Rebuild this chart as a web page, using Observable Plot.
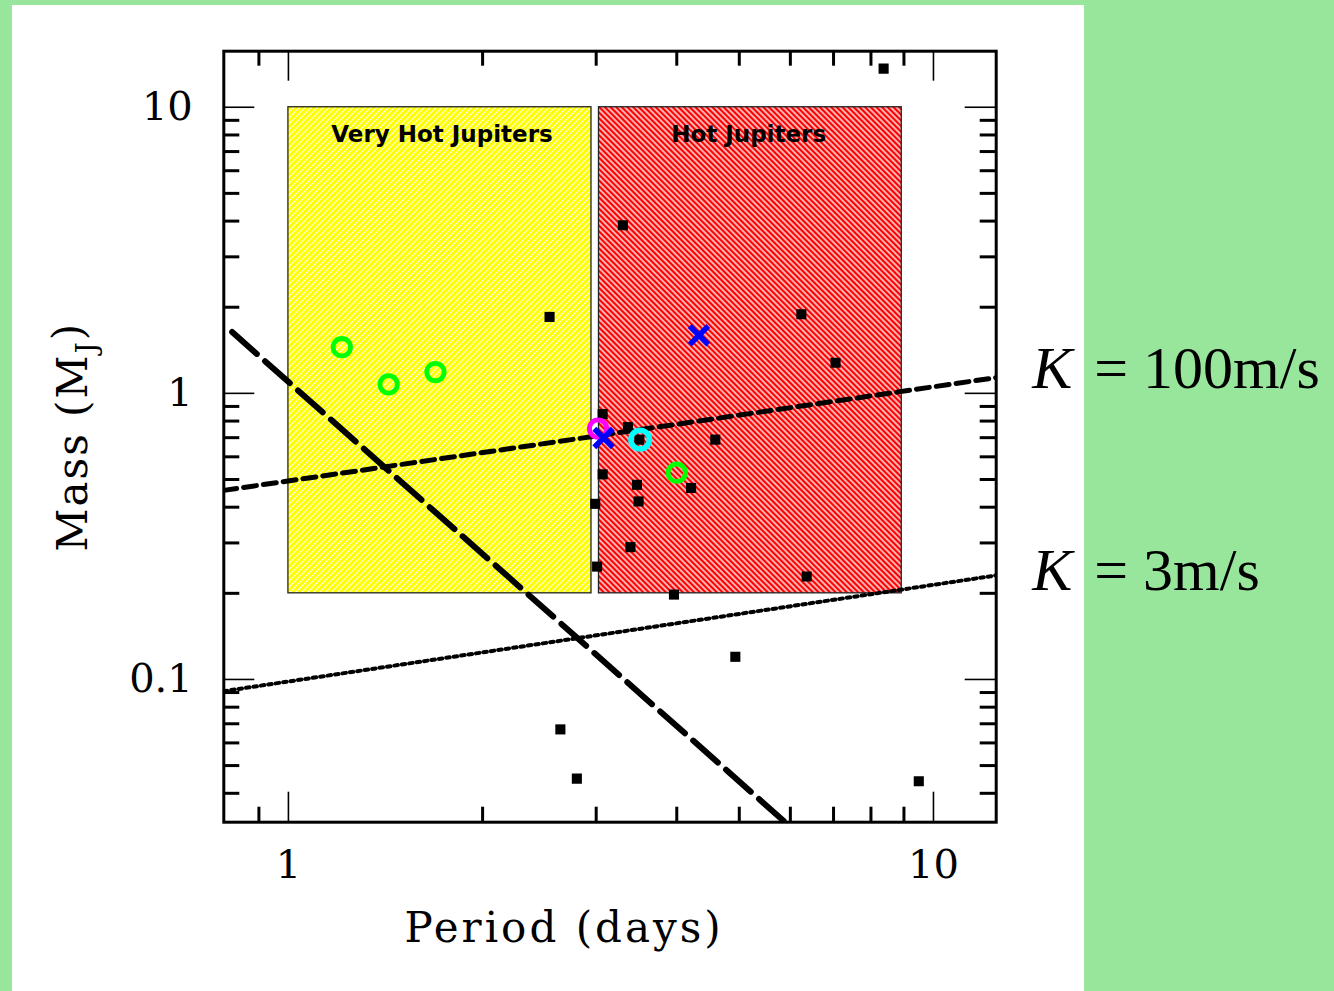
<!DOCTYPE html>
<html><head><meta charset="utf-8">
<script src="https://cdn.jsdelivr.net/npm/d3@7"></script>
<script src="https://cdn.jsdelivr.net/npm/@observablehq/plot@0.6"></script>
<style>
html,body{margin:0;padding:0;background:#98e69c;}
#wrap{position:relative;width:1334px;height:991px;overflow:hidden;}
#panel{position:absolute;left:12px;top:5px;width:1072px;height:986px;background:#fff;}
#chart{position:absolute;left:0;top:0;}
</style></head><body>
<div id="wrap"><div id="panel"></div><div id="chart"></div></div>
<script>
// ---------- data ----------
const regionNames = ["Very Hot Jupiters", "Hot Jupiters"];
const regionPmin = [1.0, 3.03];
const regionPmax = [2.95, 8.93];
const regionMmin = [0.2, 0.2];
const regionMmax = [10, 10];
const regionLabelP = [1.73, 5.17];
const regionLabelM = [7.54, 7.54];

// known planets (black squares)
const planetP = [8.37, 3.30, 2.54, 6.24, 7.05, 3.07, 3.36, 3.50, 4.59, 3.07, 3.47, 3.49, 4.21, 2.99, 3.39, 3.01, 6.36, 3.96, 4.93, 2.64, 2.80, 9.49];
const planetM = [13.65, 3.87, 1.85, 1.89, 1.28, 0.846, 0.762, 0.689, 0.689, 0.521, 0.479, 0.419, 0.467, 0.411, 0.290, 0.248, 0.229, 0.198, 0.120, 0.0669, 0.0450, 0.0441];

// highlighted planets
const greenP = [1.21, 1.43, 1.69, 4.00];
const greenM = [1.45, 1.075, 1.187, 0.528];
const magentaP = [3.02];
const magentaM = [0.753];
const cyanP = [3.51];
const cyanM = [0.689];
const blueP = [4.33, 3.08];
const blueM = [1.595, 0.698];

// lines (endpoints)
const k100P = [0.794, 12.51];
const k100M = [0.458, 1.135];
const k3P = [0.794, 12.51];
const k3M = [0.091, 0.231];
const longDashP = [0.818, 5.89];
const longDashM = [1.638, 0.0317];

// line labels
const kLabelValues = ["100m/s", "3m/s"];
const kLabelM = [1.04, 0.205];

// axes
const xDomain = [0.794, 12.51];
const yDomain = [0.0317, 15.7];
const xMajor = [1, 10];
const xMajorLabels = ["1", "10"];
const xMinor = [0.9, 2, 3, 4, 5, 6, 7, 8, 9];
const yMajor = [0.1, 1, 10];
const yMajorLabels = ["0.1", "1", "10"];
const yMinor = [0.04, 0.05, 0.06, 0.07, 0.08, 0.09, 0.2, 0.3, 0.4, 0.5, 0.6, 0.7, 0.8, 0.9, 2, 3, 4, 5, 6, 7, 8, 9];
const xLabel = "Period (days)";
const yLabel = "Mass (MJ)";

// ---------- build ----------
const W = 1334, H = 991;
const mL = 223.3, mR = 338.3, mT = 50.7, mB = 169.3;
const fH = H - mT - mB, fW = W - mL - mR;

const regions = regionNames.map((n, i) => ({n, x1: regionPmin[i], x2: regionPmax[i], y1: regionMmin[i], y2: regionMmax[i], lp: regionLabelP[i], lm: regionLabelM[i], fill: i === 0 ? "url(#hatchY)" : "url(#hatchR)"}));
const pts = (P, M) => P.map((p, i) => ({p, m: M[i]}));
const serif = "DejaVu Serif";

const svg = Plot.plot({
  width: W, height: H,
  marginLeft: mL, marginRight: mR, marginTop: mT, marginBottom: mB,
  style: {background: "transparent", overflow: "visible"},
  x: {type: "log", domain: xDomain, axis: null},
  y: {type: "log", domain: yDomain, axis: null},
  marks: [
    Plot.rect(regions, {x1: "x1", x2: "x2", y1: "y1", y2: "y2", fill: "fill", stroke: "#222", strokeWidth: 1.3}),
    Plot.line(pts(k100P, k100M), {x: "p", y: "m", stroke: "black", strokeWidth: 5, strokeDasharray: "13,7", clip: true}),
    Plot.line(pts(k3P, k3M), {x: "p", y: "m", stroke: "black", strokeWidth: 4, strokeDasharray: "3.5,4", clip: true}),
    Plot.line(pts(longDashP, longDashM), {x: "p", y: "m", stroke: "black", strokeWidth: 6, strokeDasharray: "33,11", clip: true}),
    Plot.dot(pts(planetP, planetM), {x: "p", y: "m", symbol: "square", r: 5.7, fill: "black", clip: true}),
    Plot.dot(pts(greenP, greenM), {x: "p", y: "m", r: 8.7, stroke: "#00ff00", strokeWidth: 4.8}),
    Plot.dot(pts(magentaP, magentaM), {x: "p", y: "m", r: 8.7, stroke: "#ff00ff", strokeWidth: 4.8}),
    Plot.dot(pts(cyanP, cyanM), {x: "p", y: "m", r: 9.3, stroke: "#00ffff", strokeWidth: 5.5}),
    Plot.dot(pts(blueP, blueM), {x: "p", y: "m", symbol: "times", r: 8.5, stroke: "#0000ff", strokeWidth: 5.5}),
    Plot.text(regions, {x: "lp", y: "lm", text: "n", fontFamily: "DejaVu Sans", fontWeight: "bold", fontSize: 23, lineAnchor: "bottom", fill: "black"}),
    // ticks
    Plot.ruleX(xMinor, {x: d => d, insetTop: fH - 15, stroke: "black", strokeWidth: 3}),
    Plot.ruleX(xMinor, {x: d => d, insetBottom: fH - 15, stroke: "black", strokeWidth: 3}),
    Plot.ruleX(xMajor, {x: d => d, insetTop: fH - 30, stroke: "black", strokeWidth: 1.6}),
    Plot.ruleX(xMajor, {x: d => d, insetBottom: fH - 30, stroke: "black", strokeWidth: 1.6}),
    Plot.ruleY(yMinor, {y: d => d, insetRight: fW - 16, stroke: "black", strokeWidth: 3}),
    Plot.ruleY(yMinor, {y: d => d, insetLeft: fW - 16, stroke: "black", strokeWidth: 3}),
    Plot.ruleY(yMajor, {y: d => d, insetRight: fW - 31, stroke: "black", strokeWidth: 1.6}),
    Plot.ruleY(yMajor, {y: d => d, insetLeft: fW - 31, stroke: "black", strokeWidth: 1.6}),
    Plot.frame({stroke: "black", strokeWidth: 3}),
    // tick labels
    Plot.text(xMajor, {x: d => d, text: (d, i) => xMajorLabels[i], frameAnchor: "bottom", lineAnchor: "top", dy: 27, fontFamily: serif, fontSize: 40, fill: "black"}),
    Plot.text(yMajor, {y: d => d, text: (d, i) => yMajorLabels[i], frameAnchor: "left", textAnchor: "end", lineAnchor: "middle", dx: -31, fontFamily: serif, fontSize: 40, fill: "black"}),
    // axis labels
    Plot.text([xLabel], {text: d => d, frameAnchor: "bottom", lineAnchor: "bottom", dx: -46, dy: 120, fontFamily: serif, fontSize: 42, fill: "black"}),
    Plot.text([yLabel], {text: d => d, frameAnchor: "left", rotate: -90, lineAnchor: "middle", dx: -150, fontFamily: serif, fontSize: 42, fill: "black"}),
    // K labels
    Plot.text(kLabelM, {y: d => d, text: () => "K", frameAnchor: "right", textAnchor: "start", lineAnchor: "bottom", dx: 36, fontFamily: "Liberation Serif", fontStyle: "italic", fontSize: 60, fill: "black", clip: false}),
    Plot.text(kLabelM, {y: d => d, text: (d, i) => "= " + kLabelValues[i], frameAnchor: "right", textAnchor: "start", lineAnchor: "bottom", dx: 98, fontFamily: "Liberation Serif", fontSize: 60, fill: "black", clip: false})
  ]
});

// hatch patterns
const defs = d3.select(svg).insert("defs", ":first-child");
function hatch(id, bg, angle, lw, s) {
  const p = defs.append("pattern").attr("id", id).attr("patternUnits", "userSpaceOnUse")
    .attr("width", s).attr("height", s).attr("patternTransform", `rotate(${angle})`);
  p.append("rect").attr("width", s).attr("height", s).attr("fill", bg);
  p.append("line").attr("x1", s / 2).attr("x2", s / 2).attr("y1", 0).attr("y2", s).attr("stroke", "#fff").attr("stroke-width", lw);
}
hatch("hatchY", "#ffff00", 45, 1.0, 4.2);
hatch("hatchR", "#ff0000", -45, 1.4, 4.0);

document.getElementById("chart").appendChild(svg);

// letter spacing and subscript (after insertion so text can be measured)
d3.select(svg).selectAll("text").each(function () {
  const t = this.textContent;
  if (t === xLabel) this.style.letterSpacing = "3px";
  if (t === yLabel) {
    this.style.letterSpacing = "2px";
    const s = d3.select(this);
    s.text(null);
    s.append("tspan").text("Mass (M");
    s.append("tspan").attr("dy", "0.3em").attr("font-size", 28).text("J");
    s.append("tspan").attr("dy", "-0.3em").text(")");
    const w = this.getBBox().width;
    s.attr("text-anchor", "start");
    s.select("tspan").attr("x", -w / 2);
  }
});
</script>
</body></html>
